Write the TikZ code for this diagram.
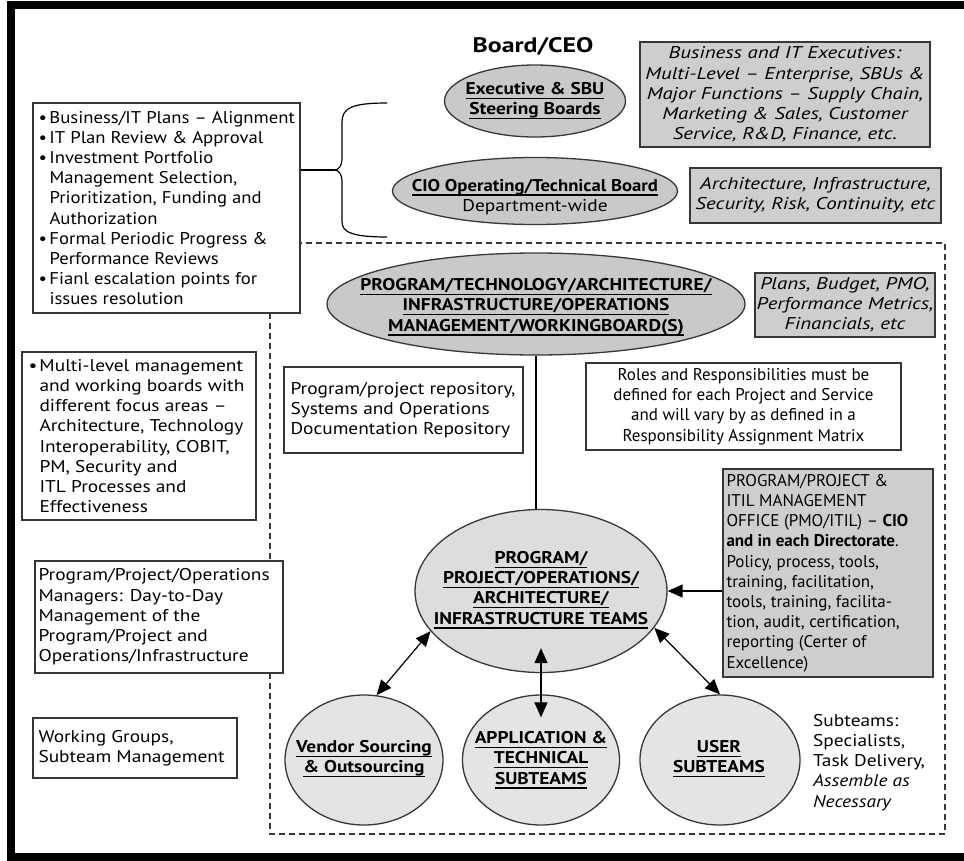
\documentclass[tikz,border=0pt]{standalone}
\usepackage{fontspec}
\setmainfont{PT Sans}
\newfontfamily\fwide[Ligatures=TeX,FakeStretch=1.14]{PT Sans}
\newfontfamily\fmid[Ligatures=TeX,FakeStretch=1.10]{PT Sans}
\newfontfamily\fwider[Ligatures=TeX,FakeStretch=1.23]{PT Sans}
\usetikzlibrary{shapes.geometric,arrows.meta}
\definecolor{ellA}{RGB}{201,201,201}
\definecolor{ellB}{RGB}{221,221,221}
\definecolor{ellC}{RGB}{228,228,228}
\definecolor{boxG}{RGB}{206,206,206}
\definecolor{edge}{RGB}{55,55,55}
\newcommand\bodyfont{\fontsize{17}{20.2}\selectfont}
\newsavebox\ulbox
\newcommand\ulx[1]{\sbox\ulbox{#1}\rlap{\rule[-4.5pt]{\wd\ulbox}{1.3pt}}\usebox\ulbox}
\newcommand\bul{\makebox[11pt][l]{\textbullet}}
\newcommand\ind{\hspace*{11pt}}
\begin{document}
\begin{tikzpicture}[x=1pt,y=-1pt,
  every node/.style={font=\bodyfont, text=black},
  boxw/.style={draw=edge, line width=1.4pt, fill=white, inner sep=0pt},
  boxg/.style={boxw, fill=boxG},
  ovalA/.style={ellipse, draw=edge, line width=1.3pt, fill=ellA, inner sep=0pt},
  ovalB/.style={ovalA, fill=ellB},
  ovalC/.style={ovalA, fill=ellC},
  ltxt/.style={inner sep=0pt, align=left},
  ctxt/.style={inner sep=0pt, align=center},
  widetxt/.style={font=\bodyfont\fwide},
  boldtxt/.style={font=\bodyfont\fwide\bfseries},
  itxt/.style={font=\bodyfont\fwider\itshape},
  conn/.style={line width=1.2pt, draw=black},
  onehead/.style={-{Triangle[length=15pt,width=13pt]}},
  twohead/.style={{Triangle[length=15pt,width=13pt]}-{Triangle[length=15pt,width=13pt]}},
  scope frame/.style={dash pattern=on 6pt off 4pt, line width=1.2pt, draw=edge}
]
\useasboundingbox (0,0) rectangle (964,860);

% outer frame (open on the right)
\draw[line width=8pt, black] (990,5) -- (11,5) -- (11,857) -- (990,857);

% dashed management scope
\draw[scope frame] (270,243) rectangle (945,834);

% title
\node[font=\fontsize{21}{24}\selectfont\fwider\bfseries] (ceo) at (533,46) {Board/CEO};

% boards
\node[ovalA, minimum width=181pt, minimum height=72pt] (exec) at (535,101) {};
\node[ctxt, boldtxt] (execT) at (535,101) {\ulx{Executive \& SBU}\\\ulx{Steering Boards}};

\node[ovalA, minimum width=285pt, minimum height=67pt] (cio) at (535,191) {};
\node[ctxt] (cioT) at (535,197) {{\fmid\bfseries\ulx{CIO Operating/Technical Board}}\\{\fwide Department-wide}};

\node[ovalA, minimum width=418pt, minimum height=102pt] (prog) at (536,304) {};
\node[ctxt, boldtxt] (progT) at (536,307) {\ulx{PROGRAM/TECHNOLOGY/ARCHITECTURE/}\\\ulx{INFRASTRUCTURE/OPERATIONS}\\\ulx{MANAGEMENT/WORKINGBOARD(S)}};

% teams
\node[ovalB, minimum width=252pt, minimum height=163pt] (teams) at (541,591) {};
\node[ctxt, boldtxt] (teamsT) at (541,590) {\ulx{PROGRAM/}\\\ulx{PROJECT/OPERATIONS/}\\\ulx{ARCHITECTURE/}\\\ulx{INFRASTRUCTURE TEAMS}};

\node[ovalC, minimum width=158pt, minimum height=130pt] (vendor) at (364,760) {};
\node[ctxt, boldtxt] (vendorT) at (364,759) {\ulx{Vendor Sourcing}\\\ulx{\& Outsourcing}};

\node[ovalC, minimum width=157pt, minimum height=130pt] (app) at (541,760) {};
\node[ctxt, boldtxt] (appT) at (541,760) {\ulx{APPLICATION \&}\\\ulx{TECHNICAL}\\\ulx{SUBTEAMS}};

\node[ovalC, minimum width=160pt, minimum height=130pt] (user) at (720,760) {};
\node[ctxt, boldtxt] (userT) at (719,759) {\ulx{USER}\\\ulx{SUBTEAMS}};

% left column
\node[boxw, minimum width=267pt, minimum height=210pt] (b1) at (166.5,208) {};
\node[ltxt, anchor=west, font=\bodyfont\fmid] (b1T) at ([xshift=6pt]b1.west) {%
\bul Business/IT Plans -- Alignment\\
\bul IT Plan Review \& Approval\\
\bul Investment Portfolio\\
\ind Management Selection,\\
\ind Prioritization, Funding and\\
\ind Authorization\\
\bul Formal Periodic Progress \&\\
\ind Performance Reviews\\
\bul Fianl escalation points for\\
\ind issues resolution};

\node[boxw, minimum width=234pt, minimum height=168pt] (b2) at (139,436) {};
\node[ltxt, widetxt, anchor=west] (b2T) at ([xshift=7pt]b2.west) {%
\bul Multi-level management\\
\ind and working boards with\\
\ind different focus areas --\\
\ind Architecture, Technology\\
\ind Interoperability, COBIT,\\
\ind PM, Security and\\
\ind ITL Processes and\\
\ind Effectiveness};

\node[boxw, minimum width=248pt, minimum height=112pt] (b3) at (159,617) {};
\node[ltxt, widetxt, anchor=west] (b3T) at ([xshift=4pt]b3.west) {%
Program/Project/Operations\\
Managers: Day-to-Day\\
Management of the\\
Program/Project and\\
Operations/Infrastructure};

\node[boxw, minimum width=204pt, minimum height=60pt] (b4) at (135,748) {};
\node[ltxt, widetxt, anchor=west] (b4T) at ([xshift=6pt]b4.west) {Working Groups,\\Subteam Management};

% right column
\node[boxg, minimum width=290pt, minimum height=105pt] (biz) at (785,94.5) {};
\node[ctxt, itxt] (bizT) at (biz.center) {Business and IT Executives:\\
Multi-Level -- Enterprise, SBUs \&\\
Major Functions -- Supply Chain,\\
Marketing \& Sales, Customer\\
Service, R\&D, Finance, etc.};

\node[boxg, minimum width=251pt, minimum height=55pt] (arch) at (815.5,195.5) {};
\node[ctxt, itxt] (archT) at (arch.center) {Architecture, Infrastructure,\\Security, Risk, Continuity, etc};

\node[boxg, minimum width=180pt, minimum height=64pt] (plans) at (845,305) {};
\node[ctxt, itxt] (plansT) at (plans.center) {Plans, Budget, PMO,\\Performance Metrics,\\Financials, etc};

\node[boxw, minimum width=239pt, minimum height=86pt] (repo) at (403.5,410) {};
\node[ltxt, widetxt, anchor=west] (repoT) at ([xshift=7pt]repo.west) {Program/project repository,\\Systems and Operations\\Documentation Repository};

\node[boxw, minimum width=315pt, minimum height=87pt] (roles) at (743.5,406.5) {};
\node[ctxt] (rolesT) at (roles.center) {Roles and Responsibilities must be\\
defined for each Project and Service\\
and will vary by as defined in a\\
Responsibility Assignment Matrix};

\node[boxg, minimum width=210pt, minimum height=208pt] (pmo) at (828,573) {};
\node[ltxt, anchor=west] (pmoT) at ([xshift=4pt]pmo.west) {%
PROGRAM/PROJECT \&\\
ITIL MANAGEMENT\\
OFFICE (PMO/ITIL) -- \textbf{CIO}\\
\textbf{and in each Directorate}.\\
Policy, process, tools,\\
training, facilitation,\\
tools, training, facilita-\\
tion, audit, certification,\\
reporting (Certer of\\
Excellence)};

\node[ltxt, widetxt, anchor=north west] (subT) at (813,714) {Subteams:\\Specialists,\\Task Delivery,\\\textit{Assemble as}\\\textit{Necessary}};

% brace from the governance list to the boards
\coordinate (bt) at (334,170);
\draw[conn] (b1.east |- bt) -- (bt);
\draw[conn] (387,103) .. controls (352,103) and (342,108) .. (342,122) -- (342,158)
  .. controls (342,166) and (339,170) .. (bt)
  .. controls (339,170) and (342,174) .. (342,182) -- (342,222)
  .. controls (342,232) and (352,237) .. (387,237);

% connectors
\draw[conn] (prog.south) -- (prog.south |- teams.north);
\draw[conn, onehead] (pmo.west |- teams.east) -- (teams.east);
\draw[conn, twohead] (teams.200) -- (vendor.79);
\draw[conn, twohead] (teams.-18) -- (user.north);
\draw[conn, twohead] ([yshift=25pt]teams.south) -- ([yshift=-23pt]app.north);
\end{tikzpicture}
\end{document}
